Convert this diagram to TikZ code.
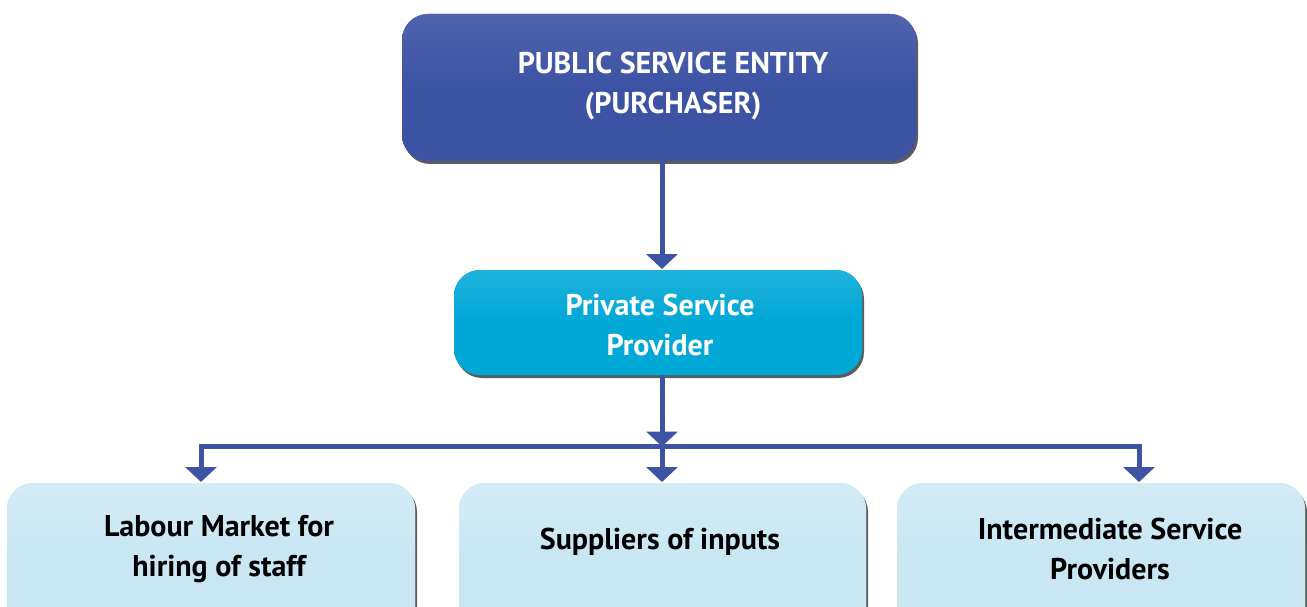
\documentclass[tikz,border=0pt]{standalone}
\usepackage{fontspec}
\setmainfont{PT Sans}
\usetikzlibrary{arrows.meta,shadows,calc}
\definecolor{navy}{HTML}{3C53A4}
\definecolor{cyanbox}{HTML}{00A8D6}
\definecolor{palebox}{HTML}{C8E7F3}
\definecolor{arrowcol}{HTML}{3D54A4}
\tikzset{
  box/.style={rounded corners=26pt, inner sep=0pt,
    drop shadow={shadow xshift=2pt, shadow yshift=-3pt, opacity=0.75, fill=black!85}},
  topbox/.style={box, fill=navy, top color=navy!90!white, bottom color=navy, middle color=navy},
  midbox/.style={box, fill=cyanbox, top color=cyanbox!88!white, bottom color=cyanbox, middle color=cyanbox},
  lowbox/.style={box, fill=palebox, top color=palebox!80!white, bottom color=palebox, middle color=palebox},
  wtxt/.style={text=white, font=\fontsize{30}{40}\selectfont\bfseries, align=center, inner sep=0pt},
  btxt/.style={text=black, font=\fontsize{30}{40}\selectfont\bfseries, align=center, inner sep=0pt},
  arr/.style={draw=arrowcol, line width=5pt, -{Triangle[width=31pt,length=15pt]}},
}
\begin{document}
\begin{tikzpicture}[x=1pt,y=-1pt]
\useasboundingbox (0,0) rectangle (1307,607);
\clip (0,0) rectangle (1307,607);
% boxes
\node[topbox, minimum width=514pt, minimum height=147pt] (top) at (659,87.5) {};
\node[wtxt] (toptxt) at (673,86) {PUBLIC SERVICE ENTITY\\(PURCHASER)};
\node[midbox, minimum width=408pt, minimum height=105pt] (mid) at (658,322.5) {};
\node[wtxt] (midtxt) at (660,325) {Private Service\\Provider};
\node[lowbox, minimum width=408pt, minimum height=150pt] (lb) at (211,558) {};
\node[btxt] (lbtxt) at (219,549) {Labour Market for\\hiring of staff};
\node[lowbox, minimum width=407pt, minimum height=150pt] (cb) at (662.5,558) {};
\node[btxt] (cbtxt) at (660,542) {Suppliers of inputs};
\node[lowbox, minimum width=408pt, minimum height=150pt] (rb) at (1101,558) {};
\node[btxt] (rbtxt) at (1110,549) {Intermediate Service\\Providers};
% connector points
\coordinate (t1) at (662,161);
\coordinate (t2) at (662,269);
\coordinate (m1) at (662,375);
\coordinate (j) at (662,446);
\coordinate (la) at (201,482);
\coordinate (ca) at (662,482);
\coordinate (ra) at (1139,482);
% connectors
\draw[arr] (t1) -- (t2);
\draw[arr] (m1) -- ([yshift=-0.5pt]j);
\draw[arr] (j) -| (la);
\draw[arr] (j) -| (ra);
\draw[arr] (j) -- (ca);
\end{tikzpicture}
\end{document}
